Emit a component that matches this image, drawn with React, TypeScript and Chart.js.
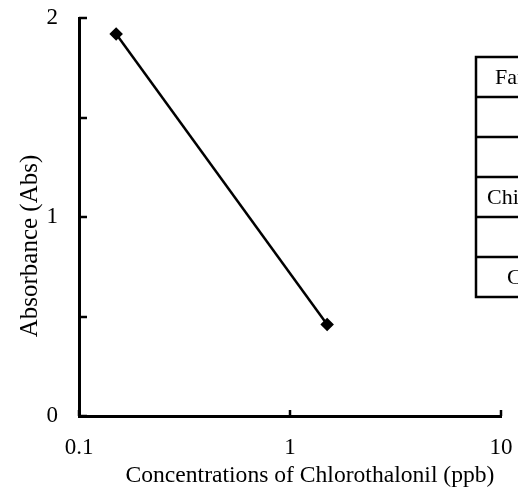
import React, { useEffect, useRef } from "react";
import { Chart, registerables } from "chart.js";

Chart.register(...registerables);

// ---- data ----
const concentrations = [0.15, 1.5];
const absorbance = [1.92, 0.46];
const xTickValues = [0.1, 1, 10];
const yTickValues = [0, 0.5, 1, 1.5, 2];
const yLabelledTicks = [0, 1, 2];
const tableRows = ["Farmland", "", "", "Chinese", "", "Crop"];
const xTitle = "Concentrations of Chlorothalonil (ppb)";
const yTitle = "Absorbance (Abs)";

const FONT = "'Liberation Serif', 'Times New Roman', serif";
const TICK_SIZE = 23;
const X_TITLE_SIZE = 23.6;
const Y_TITLE_SIZE = 25;

const decorPlugin = {
  id: "decor",
  afterDraw(chart: any) {
    const ctx = chart.ctx;
    const xs = chart.scales.x;
    const ys = chart.scales.y;
    const area = chart.chartArea;
    ctx.save();
    ctx.strokeStyle = "#000";
    ctx.lineWidth = 2.5;
    // inward y ticks
    ys.ticks.forEach((t: any) => {
      const py = Math.round(ys.getPixelForValue(t.value));
      ctx.beginPath();
      ctx.moveTo(area.left, py);
      ctx.lineTo(area.left + 8, py);
      ctx.stroke();
    });
    // inward x ticks
    xs.ticks.forEach((t: any) => {
      const px = Math.round(xs.getPixelForValue(t.value));
      ctx.beginPath();
      ctx.moveTo(px, area.bottom);
      ctx.lineTo(px, area.bottom - 6);
      ctx.stroke();
    });
    // x title
    ctx.fillStyle = "#000";
    ctx.font = `${X_TITLE_SIZE}px ${FONT}`;
    ctx.textAlign = "center";
    ctx.textBaseline = "alphabetic";
    ctx.fillText(xTitle, (area.left + area.right) / 2 + 20, 482);

    // y title
    ctx.save();
    ctx.translate(area.left - 42, (area.top + area.bottom) / 2 + 29);
    ctx.rotate(-Math.PI / 2);
    ctx.font = `${Y_TITLE_SIZE}px ${FONT}`;
    ctx.fillText(yTitle, 0, 0);
    ctx.restore();

    // table (partially outside the canvas)
    const tLeft = area.right - 25;
    const tTop = area.top + 39;
    const rowH = 40;
    const textOffsets = [19, 0, 0, 11, 0, 31];
    ctx.lineWidth = 2.5;
    ctx.fillStyle = "#fff";
    ctx.fillRect(tLeft, tTop, 200, rowH * tableRows.length);
    ctx.fillStyle = "#000";
    ctx.strokeRect(tLeft, tTop, 200, rowH * tableRows.length);
    for (let i = 1; i < tableRows.length; i++) {
      const y = tTop + i * rowH;
      ctx.beginPath();
      ctx.moveTo(tLeft, y);
      ctx.lineTo(tLeft + 200, y);
      ctx.stroke();
    }
    ctx.font = `${TICK_SIZE - 1}px ${FONT}`;
    ctx.textAlign = "left";
    tableRows.forEach((label, i) => {
      if (!label) return;
      ctx.fillText(label, tLeft + textOffsets[i], tTop + i * rowH + rowH / 2 + 7);
    });
    ctx.restore();
  },
};

export default function App() {
  const canvasRef = useRef<HTMLCanvasElement | null>(null);

  useEffect(() => {
    if (!canvasRef.current) return;
    const chart = new Chart(canvasRef.current, {
      type: "line",
      data: {
        datasets: [
          {
            data: concentrations.map((c, i) => ({ x: c, y: absorbance[i] })),
            borderColor: "#000",
            backgroundColor: "#000",
            borderWidth: 2.5,
            pointStyle: "rectRot",
            pointRadius: 5,
            pointBackgroundColor: "#000",
            pointBorderColor: "#000",
            fill: false,
            tension: 0,
          },
        ],
      },
      options: {
        responsive: false,
        animation: false,
        events: [],
        layout: { padding: { left: 0, top: 18, right: 17, bottom: 0 } },
        plugins: {
          legend: { display: false },
          tooltip: { enabled: false },
        },
        scales: {
          x: {
            type: "logarithmic",
            min: 0.1,
            max: 10,
            afterBuildTicks: (s: any) => {
              s.ticks = xTickValues.map((v) => ({ value: v }));
            },
            afterFit: (s: any) => {
              s.height = 75;
              s.paddingLeft = 0;
              s.paddingRight = 0;
            },
            ticks: {
              autoSkip: false,
              maxRotation: 0,
              padding: 18,
              color: "#000",
              font: { family: FONT, size: TICK_SIZE },
              callback: (v: any) => String(v),
            },
            grid: { display: false, drawTicks: false },
            border: { display: true, color: "#000", width: 3 },
          },
          y: {
            min: 0,
            max: 2,
            afterBuildTicks: (s: any) => {
              s.ticks = yTickValues.map((v) => ({ value: v }));
            },
            afterFit: (s: any) => {
              s.width = 79;
              s.paddingTop = 0;
              s.paddingBottom = 0;
            },
            ticks: {
              autoSkip: false,
              padding: 21,
              color: "#000",
              font: { family: FONT, size: TICK_SIZE },
              callback: (v: any) => (yLabelledTicks.includes(Number(v)) ? String(v) : ""),
            },
            grid: { display: false, drawTicks: false },
            border: { display: true, color: "#000", width: 3 },
          },
        },
      },
      plugins: [decorPlugin],
    });
    return () => chart.destroy();
  }, []);

  return (
    <div style={{ position: "fixed", left: 0, top: 0, width: 518, height: 491, background: "#fff" }}>
      <canvas ref={canvasRef} width={518} height={491} style={{ display: "block" }} />
    </div>
  );
}
